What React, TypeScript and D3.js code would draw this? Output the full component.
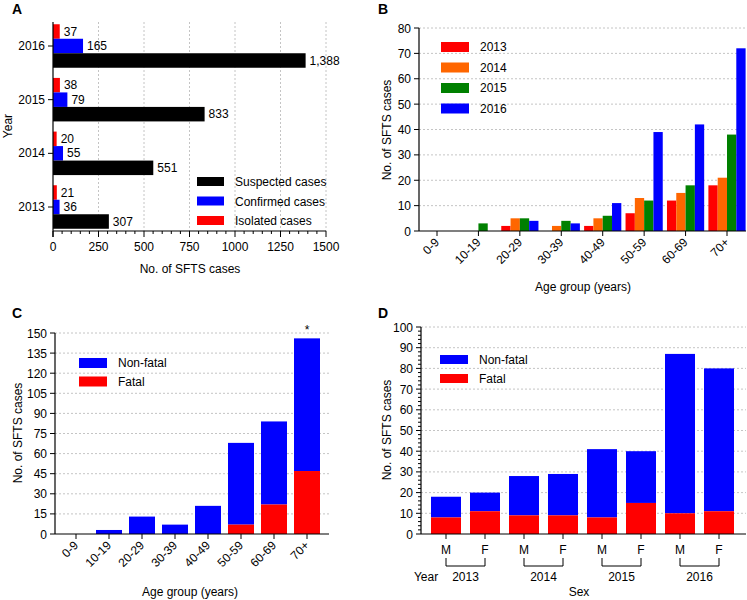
import React from "react";
import * as d3 from "d3";

// Panel A data
const yearsA = ["2016", "2015", "2014", "2013"];
const isolatedA = [37, 38, 20, 21];
const confirmedA = [165, 79, 55, 36];
const suspectedA = [1388, 833, 551, 307];

// Panel B data
const ageGroups = ["0-9", "10-19", "20-29", "30-39", "40-49", "50-59", "60-69", "70+"];
const b2013 = [0, 0, 2, 0, 2, 7, 12, 18];
const b2014 = [0, 0, 5, 2, 5, 13, 15, 21];
const b2015 = [0, 3, 5, 4, 6, 12, 18, 38];
const b2016 = [0, 0, 4, 3, 11, 39, 42, 72];
const seriesB = ["2013", "2014", "2015", "2016"];

// Panel C data
const fatalC = [0, 0, 0, 0, 0, 7, 22, 47];
const totalC = [0, 3, 13, 7, 21, 68, 84, 146];

// Panel D data
const sexD = ["M", "F", "M", "F", "M", "F", "M", "F"];
const yearD = ["2013", "2013", "2014", "2014", "2015", "2015", "2016", "2016"];
const fatalD = [8, 11, 9, 9, 8, 15, 10, 11];
const totalD = [18, 20, 28, 29, 41, 40, 87, 80];

const RED = "#ff0000";
const BLUE = "#0000ff";
const BLACK = "#000000";
const ORANGE = "#ff6600";
const GREEN = "#008000";
const GRID = "#b5b5b5";
const FONT = "'Liberation Sans', Arial, sans-serif";

function PanelA() {
  const x = d3.scaleLinear().domain([0, 1500]).range([53, 326]);
  const y = d3.scalePoint<string>().domain(yearsA).range([46, 207]);
  const bh = 14.5;
  const fmt = d3.format(",");
  const major = d3.range(0, 1501, 250);
  const minor = d3.range(0, 1501, 50).filter((v) => v % 250 !== 0);
  const rows = [
    { vals: isolatedA, color: RED, off: -1.5 * bh },
    { vals: confirmedA, color: BLUE, off: -0.5 * bh },
    { vals: suspectedA, color: BLACK, off: 0.5 * bh },
  ];
  const legend = [
    { label: "Suspected cases", color: BLACK },
    { label: "Confirmed cases", color: BLUE },
    { label: "Isolated cases", color: RED },
  ];
  return (
    <g>
      <text x={12} y={14} fontSize={14} fontWeight="bold">A</text>
      {major.slice(1).map((v) => (
        <line key={v} x1={x(v)} x2={x(v)} y1={22} y2={231} stroke={GRID} strokeDasharray="2,2" strokeWidth={0.8} />
      ))}
      {rows.map((r, ri) =>
        yearsA.map((yr, i) => (
          <g key={ri + "-" + i}>
            <rect x={x(0)} y={(y(yr) as number) + r.off} width={x(r.vals[i]) - x(0)} height={bh} fill={r.color} />
            <text x={x(r.vals[i]) + 4} y={(y(yr) as number) + r.off + bh / 2 + 4} fontSize={12}>{fmt(r.vals[i])}</text>
          </g>
        ))
      )}
      <line x1={53} x2={53} y1={22} y2={237} stroke="#000" strokeWidth={1.2} />
      <line x1={53} x2={326} y1={231} y2={231} stroke="#000" strokeWidth={1.2} />
      {major.map((v) => (
        <g key={v}>
          <line x1={x(v)} x2={x(v)} y1={231} y2={237} stroke="#000" />
          <text x={x(v)} y={251} fontSize={12} textAnchor="middle">{v}</text>
        </g>
      ))}
      {minor.map((v) => (
        <line key={v} x1={x(v)} x2={x(v)} y1={231} y2={234} stroke="#000" />
      ))}
      {yearsA.map((yr) => (
        <g key={yr}>
          <line x1={48} x2={53} y1={y(yr)} y2={y(yr)} stroke="#000" />
          <text x={45} y={(y(yr) as number) + 4} fontSize={12} textAnchor="end">{yr}</text>
        </g>
      ))}
      <text x={190} y={273} fontSize={12} textAnchor="middle">No. of SFTS cases</text>
      <text transform="translate(12,126) rotate(-90)" fontSize={12} textAnchor="middle">Year</text>
      {legend.map((l, i) => (
        <g key={l.label}>
          <rect x={197} y={177 + i * 19.5} width={27} height={9} fill={l.color} />
          <text x={235} y={186 + i * 19.5} fontSize={12}>{l.label}</text>
        </g>
      ))}
    </g>
  );
}

function PanelB() {
  const y = d3.scaleLinear().domain([0, 80]).range([231, 28]);
  const x = d3.scalePoint<string>().domain(ageGroups).range([437, 727]);
  const bw = 9.3;
  const series = [b2013, b2014, b2015, b2016];
  const colors = [RED, ORANGE, GREEN, BLUE];
  const ticks = d3.range(0, 81, 10);
  return (
    <g>
      <text x={378} y={14} fontSize={14} fontWeight="bold">B</text>
      {ticks.slice(1).map((v) => (
        <line key={v} x1={419} x2={746} y1={y(v)} y2={y(v)} stroke={GRID} strokeDasharray="2,2" strokeWidth={0.8} />
      ))}
      {series.map((s, si) =>
        ageGroups.map((g, i) =>
          s[i] > 0 ? (
            <rect key={si + "-" + i} x={(x(g) as number) + (si - 2) * bw} y={y(s[i])} width={bw} height={y(0) - y(s[i])} fill={colors[si]} />
          ) : null
        )
      )}
      <line x1={419} x2={419} y1={28} y2={231} stroke="#000" strokeWidth={1.2} />
      <line x1={419} x2={746} y1={231} y2={231} stroke="#000" strokeWidth={1.2} />
      {ticks.map((v) => (
        <g key={v}>
          <line x1={414} x2={419} y1={y(v)} y2={y(v)} stroke="#000" />
          <text x={411} y={y(v) + 4.5} fontSize={12} textAnchor="end">{v}</text>
        </g>
      ))}
      {ageGroups.map((g) => (
        <g key={g}>
          <line x1={x(g)} x2={x(g)} y1={231} y2={236} stroke="#000" />
          <text transform={`translate(${(x(g) as number) + 3},${243}) rotate(-45)`} fontSize={12} textAnchor="end">{g}</text>
        </g>
      ))}
      <text x={583} y={291} fontSize={12} textAnchor="middle">Age group (years)</text>
      <text transform="translate(391,130) rotate(-90)" fontSize={12} textAnchor="middle">No. of SFTS cases</text>
      {seriesB.map((s, i) => (
        <g key={s}>
          <rect x={441} y={42 + i * 20.5} width={28} height={10} fill={colors[i]} />
          <text x={480} y={51 + i * 20.5} fontSize={12}>{s}</text>
        </g>
      ))}
    </g>
  );
}

function PanelC() {
  const y = d3.scaleLinear().domain([0, 150]).range([534, 333]);
  const x = d3.scalePoint<string>().domain(ageGroups).range([76, 307]);
  const bw = 26;
  const ticks = d3.range(0, 151, 15);
  return (
    <g>
      <text x={12} y={318} fontSize={14} fontWeight="bold">C</text>
      {ticks.slice(1).map((v) => (
        <line key={v} x1={55} x2={329} y1={y(v)} y2={y(v)} stroke={GRID} strokeDasharray="2,2" strokeWidth={0.8} />
      ))}
      {ageGroups.map((g, i) => (
        <g key={g}>
          {totalC[i] > 0 && (
            <rect x={(x(g) as number) - bw / 2} y={y(totalC[i])} width={bw} height={y(fatalC[i]) - y(totalC[i])} fill={BLUE} />
          )}
          {fatalC[i] > 0 && (
            <rect x={(x(g) as number) - bw / 2} y={y(fatalC[i])} width={bw} height={y(0) - y(fatalC[i])} fill={RED} />
          )}
        </g>
      ))}
      <text x={x("70+")} y={y(totalC[7]) - 4} fontSize={12} textAnchor="middle">*</text>
      <line x1={55} x2={55} y1={333} y2={534} stroke="#000" strokeWidth={1.2} />
      <line x1={55} x2={329} y1={534} y2={534} stroke="#000" strokeWidth={1.2} />
      {ticks.map((v) => (
        <g key={v}>
          <line x1={50} x2={55} y1={y(v)} y2={y(v)} stroke="#000" />
          <text x={47} y={y(v) + 4.5} fontSize={12} textAnchor="end">{v}</text>
        </g>
      ))}
      {ageGroups.map((g) => (
        <g key={g}>
          <line x1={x(g)} x2={x(g)} y1={534} y2={539} stroke="#000" />
          <text transform={`translate(${(x(g) as number) + 3},${546}) rotate(-45)`} fontSize={12} textAnchor="end">{g}</text>
        </g>
      ))}
      <text x={190} y={596} fontSize={12} textAnchor="middle">Age group (years)</text>
      <text transform="translate(22,433) rotate(-90)" fontSize={12} textAnchor="middle">No. of SFTS cases</text>
      {[{ l: "Non-fatal", c: BLUE }, { l: "Fatal", c: RED }].map((d, i) => (
        <g key={d.l}>
          <rect x={79} y={358 + i * 18.5} width={28} height={10} fill={d.c} />
          <text x={118} y={367 + i * 18.5} fontSize={12}>{d.l}</text>
        </g>
      ))}
    </g>
  );
}

function PanelD() {
  const y = d3.scaleLinear().domain([0, 100]).range([534, 327]);
  const idx = d3.range(sexD.length).map(String);
  const x = d3.scalePoint<string>().domain(idx).range([446, 719]);
  const bw = 30;
  const ticks = d3.range(0, 101, 10);
  const minor = d3.range(0, 101, 2).filter((v) => v % 10 !== 0);
  const years = Array.from(new Set(yearD));
  return (
    <g>
      <text x={378} y={318} fontSize={14} fontWeight="bold">D</text>
      {ticks.slice(1).map((v) => (
        <line key={v} x1={421} x2={746} y1={y(v)} y2={y(v)} stroke={GRID} strokeDasharray="2,2" strokeWidth={0.8} />
      ))}
      {idx.map((k, i) => (
        <g key={k}>
          <rect x={(x(k) as number) - bw / 2} y={y(totalD[i])} width={bw} height={y(fatalD[i]) - y(totalD[i])} fill={BLUE} />
          <rect x={(x(k) as number) - bw / 2} y={y(fatalD[i])} width={bw} height={y(0) - y(fatalD[i])} fill={RED} />
        </g>
      ))}
      <line x1={421} x2={421} y1={327} y2={534} stroke="#000" strokeWidth={1.2} />
      <line x1={421} x2={746} y1={534} y2={534} stroke="#000" strokeWidth={1.2} />
      {ticks.map((v) => (
        <g key={v}>
          <line x1={416} x2={421} y1={y(v)} y2={y(v)} stroke="#000" />
          <text x={413} y={y(v) + 4.5} fontSize={12} textAnchor="end">{v}</text>
        </g>
      ))}
      {minor.map((v) => (
        <line key={v} x1={418} x2={421} y1={y(v)} y2={y(v)} stroke="#000" />
      ))}
      {idx.map((k, i) => (
        <g key={k}>
          <line x1={x(k)} x2={x(k)} y1={534} y2={539} stroke="#000" />
          <text x={x(k)} y={554} fontSize={12} textAnchor="middle">{sexD[i]}</text>
        </g>
      ))}
      {years.map((yr, j) => {
        const x1 = x(String(j * 2)) as number;
        const x2 = x(String(j * 2 + 1)) as number;
        return (
          <g key={yr}>
            <path d={`M${x1},558V566H${x2}V558`} fill="none" stroke="#000" />
            <text x={(x1 + x2) / 2} y={581} fontSize={12} textAnchor="middle">{yr}</text>
          </g>
        );
      })}
      <text x={426} y={581} fontSize={12} textAnchor="middle">Year</text>
      <text x={579} y={596} fontSize={12} textAnchor="middle">Sex</text>
      <text transform="translate(391,430) rotate(-90)" fontSize={12} textAnchor="middle">No. of SFTS cases</text>
      {[{ l: "Non-fatal", c: BLUE }, { l: "Fatal", c: RED }].map((d, i) => (
        <g key={d.l}>
          <rect x={440} y={355 + i * 19} width={28} height={9} fill={d.c} />
          <text x={479} y={364 + i * 19} fontSize={12}>{d.l}</text>
        </g>
      ))}
    </g>
  );
}

export default function App() {
  return (
    <svg
      width={747}
      height={600}
      style={{ position: "absolute", left: 0, top: 0, background: "#fff" }}
      fontFamily={FONT}
    >
      <rect width={747} height={600} fill="#fff" />
      <PanelA />
      <PanelB />
      <PanelC />
      <PanelD />
    </svg>
  );
}
